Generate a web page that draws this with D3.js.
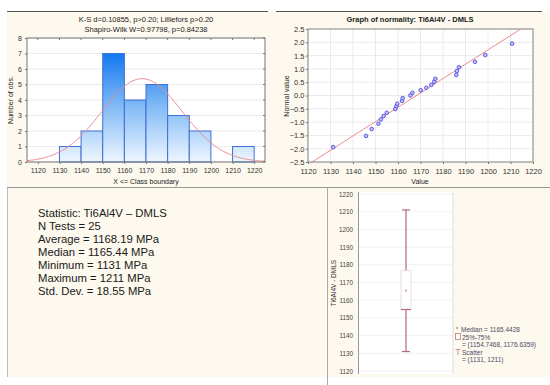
<!DOCTYPE html>
<html>
<head>
<meta charset="utf-8">
<script src="https://cdn.jsdelivr.net/npm/d3@7"></script>
<style>
  body { margin: 0; background: #fff; }
  svg { font-family: "Liberation Sans", Arial, sans-serif; }
</style>
</head>
<body>
<div id="chart"></div>
<script>
// ---- data ----
var binEdges = [1120, 1130, 1140, 1150, 1160, 1170, 1180, 1190, 1200, 1210, 1220];
var binCounts = [0, 1, 2, 7, 4, 5, 3, 2, 0, 1];
var values = [1131.2, 1145.8, 1148.3, 1151.3, 1152.4, 1153.6, 1155.0, 1158.8, 1159.3, 1159.7,
              1161.8, 1162.1, 1165.5, 1166.4, 1170.1, 1172.6, 1174.8, 1176.1, 1176.6, 1185.9,
              1186.2, 1187.1, 1194.2, 1198.8, 1210.7];
var normalScores = [-1.94, -1.52, -1.26, -1.06, -0.90, -0.77, -0.65, -0.51, -0.40, -0.31,
                    -0.20, -0.10, 0.00, 0.10, 0.20, 0.29, 0.40, 0.52, 0.63, 0.77,
                    0.92, 1.06, 1.27, 1.52, 1.95];
var stats = {n: 25, mean: 1168.19, median: 1165.44, min: 1131, max: 1211, sd: 18.55,
             q1: 1154.7468, q3: 1176.6359, medianFull: 1165.4428};
var statLines = ["Statistic: Ti6Al4V \u2013 DMLS", "N Tests = 25", "Average = 1168.19 MPa",
                 "Median = 1165.44 MPa", "Minimum = 1131 MPa", "Maximum = 1211 MPa",
                 "Std. Dev. = 18.55 MPa"];
var xTicks = d3.range(1120, 1221, 10);
var histYTicks = d3.range(0, 9, 1);
var normYTicks = [2.5, 2, 1.5, 1, 0.5, 0, -0.5, -1, -1.5, -2, -2.5];
var boxYTicks = d3.range(1120, 1221, 10);

var W = 550, H = 385;
var cream = "#fdf9ee";
var gridCol = "#e6e6e6";
var tickCol = "#333";
var fmtInt = d3.format("d");

var svg = d3.select("#chart").append("svg")
  .attr("width", W).attr("height", H);

// background panels
svg.append("rect").attr("x", 7).attr("y", 11).attr("width", W - 7).attr("height", 366).attr("fill", cream);
svg.append("line").attr("x1", 7).attr("x2", 268).attr("y1", 11.5).attr("y2", 11.5).attr("stroke", "#555");
svg.append("line").attr("x1", 276).attr("x2", 542).attr("y1", 11.5).attr("y2", 11.5).attr("stroke", "#555");
svg.append("line").attr("x1", 7).attr("x2", W).attr("y1", 187.5).attr("y2", 187.5).attr("stroke", "#999");
svg.append("line").attr("x1", 7.5).attr("x2", 7.5).attr("y1", 188).attr("y2", 377).attr("stroke", "#bbb");
svg.append("line").attr("x1", 327.5).attr("x2", 327.5).attr("y1", 188).attr("y2", 385).attr("stroke", "#aaa");

// ================= histogram =================
var hx = d3.scaleLinear().domain([1115, 1225]).range([27, 265]);
var hy = d3.scaleLinear().domain([0, 8]).range([162, 38]);

var defs = svg.append("defs");
var grad = defs.append("linearGradient").attr("id", "barGrad")
  .attr("gradientUnits", "userSpaceOnUse")
  .attr("x1", 0).attr("x2", 0).attr("y1", hy(7)).attr("y2", hy(0));
grad.append("stop").attr("offset", "0%").attr("stop-color", "#1478f0");
grad.append("stop").attr("offset", "50%").attr("stop-color", "#84bcf6");
grad.append("stop").attr("offset", "100%").attr("stop-color", "#eef6ff");

var hist = svg.append("g");
hist.append("rect").attr("x", hx.range()[0]).attr("y", hy.range()[1])
  .attr("width", hx.range()[1] - hx.range()[0]).attr("height", hy.range()[0] - hy.range()[1])
  .attr("fill", "#fff");

hist.selectAll(".hgrid").data(histYTicks).enter().append("line")
  .attr("x1", hx.range()[0]).attr("x2", hx.range()[1])
  .attr("y1", function(d) { return hy(d); }).attr("y2", function(d) { return hy(d); })
  .attr("stroke", gridCol).attr("stroke-width", 0.8);

var bins = binCounts.map(function(c, i) { return {x0: binEdges[i], x1: binEdges[i + 1], count: c}; });
hist.selectAll(".bar").data(bins.filter(function(d) { return d.count > 0; })).enter().append("rect")
  .attr("x", function(d) { return hx(d.x0); })
  .attr("y", function(d) { return hy(d.count); })
  .attr("width", function(d) { return hx(d.x1) - hx(d.x0); })
  .attr("height", function(d) { return hy(0) - hy(d.count); })
  .attr("fill", "url(#barGrad)")
  .attr("stroke", "#3f6fd6").attr("stroke-width", 1);

// fitted normal curve (expected counts per 10-unit class)
var curveX = d3.range(1115, 1225.1, 0.5);
var curve = d3.line()
  .x(function(d) { return hx(d); })
  .y(function(d) {
    var z = (d - stats.mean) / stats.sd;
    return hy(stats.n * 10 * Math.exp(-0.5 * z * z) / (stats.sd * Math.sqrt(2 * Math.PI)));
  });
hist.append("path").datum(curveX).attr("d", curve)
  .attr("fill", "none").attr("stroke", "#ec8a8e").attr("stroke-width", 1);

// frame
hist.append("rect").attr("x", hx.range()[0]).attr("y", hy.range()[1])
  .attr("width", hx.range()[1] - hx.range()[0]).attr("height", hy.range()[0] - hy.range()[1])
  .attr("fill", "none").attr("stroke", "#777").attr("stroke-width", 1);

var hxAxis = hist.append("g").attr("transform", "translate(0," + hy(0) + ")")
  .call(d3.axisBottom(hx).tickValues(xTicks).tickSize(2).tickSizeOuter(0).tickFormat(fmtInt));
var hyAxis = hist.append("g").attr("transform", "translate(" + hx.range()[0] + ",0)")
  .call(d3.axisLeft(hy).tickValues(histYTicks).tickSize(2).tickSizeOuter(0).tickFormat(fmtInt));
[hxAxis, hyAxis].forEach(function(a) {
  a.select(".domain").remove();
  a.selectAll("text").attr("font-size", 7).attr("fill", tickCol).attr("font-family", "Liberation Sans, Arial");
  a.selectAll("line").attr("stroke", "#777");
});
hxAxis.selectAll("text").attr("dy", "0.9em");
hist.selectAll(".toptick").data(xTicks).enter().append("line")
  .attr("x1", function(d) { return hx(d); }).attr("x2", function(d) { return hx(d); })
  .attr("y1", hy(8)).attr("y2", hy(8) + 2).attr("stroke", "#777");
hist.selectAll(".rtick").data(histYTicks).enter().append("line")
  .attr("x1", hx.range()[1]).attr("x2", hx.range()[1] - 2)
  .attr("y1", function(d) { return hy(d); }).attr("y2", function(d) { return hy(d); }).attr("stroke", "#777");

hist.append("text").attr("x", 146).attr("y", 21.5).attr("text-anchor", "middle")
  .attr("font-size", 7.5).attr("fill", "#222").text("K-S d=0.10855, p>0.20; Lilliefors p>0.20");
hist.append("text").attr("x", 146).attr("y", 31.5).attr("text-anchor", "middle")
  .attr("font-size", 7.5).attr("fill", "#222").text("Shapiro-Wilk W=0.97798, p=0.84238");
hist.append("text").attr("transform", "translate(13,100) rotate(-90)").attr("text-anchor", "middle")
  .attr("font-size", 7).attr("fill", "#222").text("Number of obs.");
hist.append("text").attr("x", 146).attr("y", 184).attr("text-anchor", "middle")
  .attr("font-size", 7).attr("fill", "#222").text("X <= Class boundary");

// ================= normal probability plot =================
var nx = d3.scaleLinear().domain([1120, 1220]).range([308, 533]);
var ny = d3.scaleLinear().domain([-2.5, 2.5]).range([162, 29]);
var norm = svg.append("g");
norm.append("rect").attr("x", 308).attr("y", 29).attr("width", 225).attr("height", 133).attr("fill", "#fff");
norm.selectAll(".ng").data(normYTicks).enter().append("line")
  .attr("x1", 308).attr("x2", 533)
  .attr("y1", function(d) { return ny(d); }).attr("y2", function(d) { return ny(d); })
  .attr("stroke", gridCol).attr("stroke-width", 0.8);
norm.selectAll(".nvg").data(xTicks).enter().append("line")
  .attr("x1", function(d) { return nx(d); }).attr("x2", function(d) { return nx(d); })
  .attr("y1", 29).attr("y2", 162)
  .attr("stroke", gridCol).attr("stroke-width", 0.8);

defs.append("clipPath").attr("id", "nclip").append("rect")
  .attr("x", 308).attr("y", 29).attr("width", 225).attr("height", 133);
norm.append("line").attr("clip-path", "url(#nclip)")
  .attr("x1", nx(1120)).attr("y1", ny((1120 - stats.mean) / stats.sd))
  .attr("x2", nx(1220)).attr("y2", ny((1220 - stats.mean) / stats.sd))
  .attr("stroke", "#ec8a8e").attr("stroke-width", 1);

norm.selectAll(".pt").data(values).enter().append("circle")
  .attr("cx", function(d) { return nx(d); })
  .attr("cy", function(d, i) { return ny(normalScores[i]); })
  .attr("r", 1.8)
  .attr("fill", "#c4c4fa").attr("stroke", "#4a4ae0").attr("stroke-width", 0.9);

norm.append("rect").attr("x", 308).attr("y", 29).attr("width", 225).attr("height", 133)
  .attr("fill", "none").attr("stroke", "#888");
var nxAxis = norm.append("g").attr("transform", "translate(0,162)")
  .call(d3.axisBottom(nx).tickValues(xTicks).tickSize(2).tickSizeOuter(0).tickFormat(fmtInt));
var nyAxis = norm.append("g").attr("transform", "translate(308,0)")
  .call(d3.axisLeft(ny).tickValues(normYTicks).tickSize(2).tickSizeOuter(0).tickFormat(d3.format(".1f")));
[nxAxis, nyAxis].forEach(function(a) {
  a.select(".domain").remove();
  a.selectAll("text").attr("font-size", 7.5).attr("fill", tickCol);
  a.selectAll("line").attr("stroke", "#777");
});
nxAxis.selectAll("text").attr("dy", "0.9em");
nyAxis.selectAll("text").attr("dx", "0.2em");
norm.append("text").attr("x", 410).attr("y", 22).attr("text-anchor", "middle")
  .attr("font-size", 7.5).attr("font-weight", "bold").attr("fill", "#222")
  .text("Graph of normality: Ti6Al4V - DMLS");
norm.append("text").attr("transform", "translate(289,96) rotate(-90)").attr("text-anchor", "middle")
  .attr("font-size", 7).attr("fill", "#222").text("Normal value");
norm.append("text").attr("x", 420).attr("y", 184).attr("text-anchor", "middle")
  .attr("font-size", 7).attr("fill", "#222").text("Value");

// ================= statistics text =================
svg.append("g").selectAll("text").data(statLines).enter().append("text")
  .attr("x", 38).attr("y", function(d, i) { return 217 + i * 13; })
  .attr("font-size", 11.3).attr("fill", "#1a1a1a").text(function(d) { return d; });

// ================= box plot =================
var by = d3.scaleLinear().domain([1120, 1220]).range([371, 194]);
var bx = 406;
var box = svg.append("g");
box.append("rect").attr("x", 358).attr("y", 192).attr("width", 95).attr("height", 182).attr("fill", "#fff");
box.selectAll(".bg").data(boxYTicks).enter().append("line")
  .attr("x1", 358).attr("x2", 453)
  .attr("y1", function(d) { return by(d); }).attr("y2", function(d) { return by(d); })
  .attr("stroke", "#eeeeee").attr("stroke-width", 0.8);
box.append("line").attr("x1", 358.5).attr("x2", 358.5).attr("y1", 192).attr("y2", 374).attr("stroke", "#999");
box.append("line").attr("x1", 453).attr("x2", 453).attr("y1", 192).attr("y2", 374).attr("stroke", "#ddd");

var whisk = "#b36b7c";
box.append("line").attr("x1", bx).attr("x2", bx).attr("y1", by(stats.max)).attr("y2", by(stats.q3))
  .attr("stroke", whisk).attr("stroke-width", 1.2);
box.append("line").attr("x1", bx).attr("x2", bx).attr("y1", by(stats.q1)).attr("y2", by(stats.min))
  .attr("stroke", whisk).attr("stroke-width", 1.2);
[stats.max, stats.min].forEach(function(v) {
  box.append("line").attr("x1", bx - 4).attr("x2", bx + 4).attr("y1", by(v)).attr("y2", by(v))
    .attr("stroke", whisk).attr("stroke-width", 1.2);
});
box.append("rect").attr("x", bx - 5).attr("y", by(stats.q3))
  .attr("width", 10).attr("height", by(stats.q1) - by(stats.q3))
  .attr("fill", "#fff").attr("stroke", "#e2d6d6").attr("stroke-width", 0.8);
box.append("line").attr("x1", bx - 5).attr("x2", bx + 5).attr("y1", by(stats.q1)).attr("y2", by(stats.q1))
  .attr("stroke", whisk).attr("stroke-width", 1.2);
box.append("rect").attr("x", bx - 1).attr("y", by(stats.medianFull) - 1).attr("width", 2).attr("height", 2)
  .attr("fill", "#d7a6ae");

var byAxis = box.append("g").attr("transform", "translate(358,0)")
  .call(d3.axisLeft(by).tickValues(boxYTicks).tickSize(0).tickSizeOuter(0).tickFormat(fmtInt));
byAxis.select(".domain").remove();
byAxis.selectAll("text").attr("font-size", 6.3).attr("fill", "#444").attr("dx", "-0.3em");
box.append("text").attr("transform", "translate(336,283) rotate(-90)").attr("text-anchor", "middle")
  .attr("font-size", 6.5).attr("fill", "#333").text("Ti6Al4V - DMLS");

// legend
var lg = box.append("g").attr("font-size", 6.5).attr("fill", "#4a4a66");
lg.append("rect").attr("x", 456).attr("y", 327).attr("width", 2).attr("height", 2).attr("fill", "#d7a6ae");
lg.append("text").attr("x", 461).attr("y", 331.5).text("Median = " + stats.medianFull);
lg.append("rect").attr("x", 455.5).attr("y", 333.5).attr("width", 5).attr("height", 6)
  .attr("fill", "none").attr("stroke", "#b36b7c").attr("stroke-width", 0.7);
lg.append("text").attr("x", 462).attr("y", 339.5).text("25%-75%");
lg.append("text").attr("x", 462).attr("y", 347).text("= (" + stats.q1 + ", " + stats.q3 + ")");
lg.append("line").attr("x1", 455.5).attr("x2", 460.5).attr("y1", 349.5).attr("y2", 349.5).attr("stroke", "#b36b7c").attr("stroke-width", 0.7);
lg.append("line").attr("x1", 458).attr("x2", 458).attr("y1", 349.5).attr("y2", 355).attr("stroke", "#b36b7c").attr("stroke-width", 0.7);
lg.append("text").attr("x", 462).attr("y", 354.5).text("Scatter");
lg.append("text").attr("x", 462).attr("y", 362).text("= (" + stats.min + ", " + stats.max + ")");
</script>
</body>
</html>
